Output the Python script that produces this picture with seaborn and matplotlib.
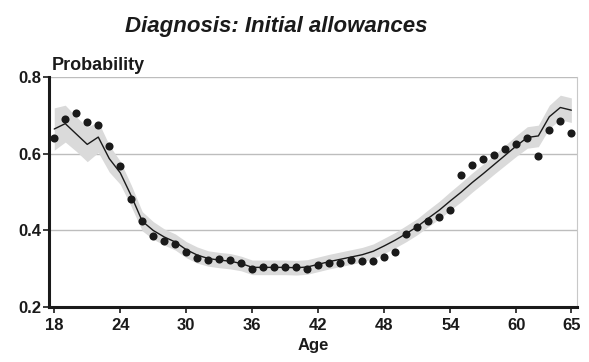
import numpy as np
import pandas as pd
import matplotlib
matplotlib.use("Agg")
import matplotlib.pyplot as plt
import seaborn as sns

# Age range
ages = list(range(18, 66))

# Observed probabilities (dots)
observed = [0.640, 0.690, 0.705, 0.683, 0.674, 0.620, 0.568, 0.482, 0.425, 0.385,
            0.373, 0.364, 0.344, 0.329, 0.323, 0.326, 0.322, 0.316, 0.301, 0.304,
            0.306, 0.306, 0.305, 0.300, 0.309, 0.316, 0.315, 0.322, 0.320, 0.320,
            0.331, 0.344, 0.390, 0.410, 0.425, 0.436, 0.454, 0.544, 0.571, 0.586,
            0.597, 0.612, 0.626, 0.640, 0.593, 0.661, 0.686, 0.653]

# Model prediction (line)
predicted = [0.664, 0.678, 0.651, 0.624, 0.643, 0.587, 0.550, 0.490, 0.424, 0.400,
             0.383, 0.370, 0.350, 0.336, 0.327, 0.323, 0.320, 0.314, 0.304, 0.304,
             0.304, 0.304, 0.303, 0.305, 0.312, 0.319, 0.325, 0.331, 0.337, 0.346,
             0.360, 0.375, 0.392, 0.410, 0.432, 0.453, 0.477, 0.500, 0.525, 0.548,
             0.572, 0.596, 0.620, 0.642, 0.646, 0.696, 0.720, 0.713]

# Half-width of the confidence band around the prediction
band_half = [0.055, 0.048, 0.045, 0.045, 0.040, 0.035, 0.030, 0.028, 0.025, 0.023,
             0.021, 0.021, 0.021, 0.021, 0.020, 0.020, 0.020, 0.019, 0.019, 0.019,
             0.019, 0.019, 0.019, 0.019, 0.019, 0.019, 0.019, 0.019, 0.019, 0.019,
             0.020, 0.020, 0.021, 0.021, 0.022, 0.023, 0.024, 0.025, 0.025, 0.025,
             0.025, 0.026, 0.027, 0.028, 0.028, 0.030, 0.032, 0.032]

x_ticks = [18, 24, 30, 36, 42, 48, 54, 60, 65]
y_ticks = [0.2, 0.4, 0.6, 0.8]

df = pd.DataFrame({"age": ages, "observed": observed, "predicted": predicted,
                   "half": band_half})
df["lo"] = df["predicted"] - df["half"]
df["hi"] = df["predicted"] + df["half"]

sns.set_theme(style="white")
plt.rcParams["font.family"] = ["Liberation Sans", "DejaVu Sans"]

fig = plt.figure(figsize=(5.89, 3.62), dpi=100)
ax = fig.add_axes([0.0837, 0.151, 0.8966, 0.637])

ax.fill_between(df["age"], df["lo"], df["hi"], color="#dadada", linewidth=0, zorder=1)
sns.lineplot(data=df, x="age", y="predicted", color="#1a1a1a", linewidth=1.0, ax=ax, zorder=3)
sns.scatterplot(data=df, x="age", y="observed", color="#1a1a1a", s=34, linewidth=0,
                ax=ax, zorder=4)

ax.set_xlim(17.55, 65.55)
ax.set_ylim(0.2, 0.8)
ax.set_xticks(x_ticks)
ax.set_xticklabels([str(t) for t in x_ticks])
ax.set_yticks(y_ticks)
ax.set_yticklabels([f"{t:.1f}" for t in y_ticks])

for t in y_ticks[1:]:
    ax.axhline(t, color="#bdbdbd", linewidth=1.0, zorder=0.5)

ax.spines["top"].set_visible(False)
ax.spines["right"].set_color("#c8c8c8")
ax.spines["right"].set_linewidth(0.8)
for side in ("left", "bottom"):
    ax.spines[side].set_color("#1a1a1a")
    ax.spines[side].set_linewidth(2.2)

ax.tick_params(axis="x", which="major", direction="out", length=4, width=1.2,
               color="#1a1a1a", labelsize=12, labelcolor="#1a1a1a", pad=4,
               bottom=True)
ax.tick_params(axis="y", which="major", direction="out", length=4, width=1.2,
               color="#1a1a1a", labelsize=12, labelcolor="#1a1a1a", pad=2,
               left=True)
for lab in ax.get_xticklabels() + ax.get_yticklabels():
    lab.set_fontweight("bold")

ax.set_xlabel("Age", fontsize=12, fontweight="bold", color="#1a1a1a", labelpad=3)
ax.set_ylabel("")

fig.text(0.088, 0.82, "Probability", fontsize=13, fontweight="bold",
         color="#1a1a1a", ha="left", va="center")
fig.text(0.469, 0.928, "Diagnosis: Initial allowances", fontsize=16,
         fontweight="bold", fontstyle="italic", color="#1a1a1a",
         ha="center", va="center")

fig.savefig("out.png", dpi=100)
